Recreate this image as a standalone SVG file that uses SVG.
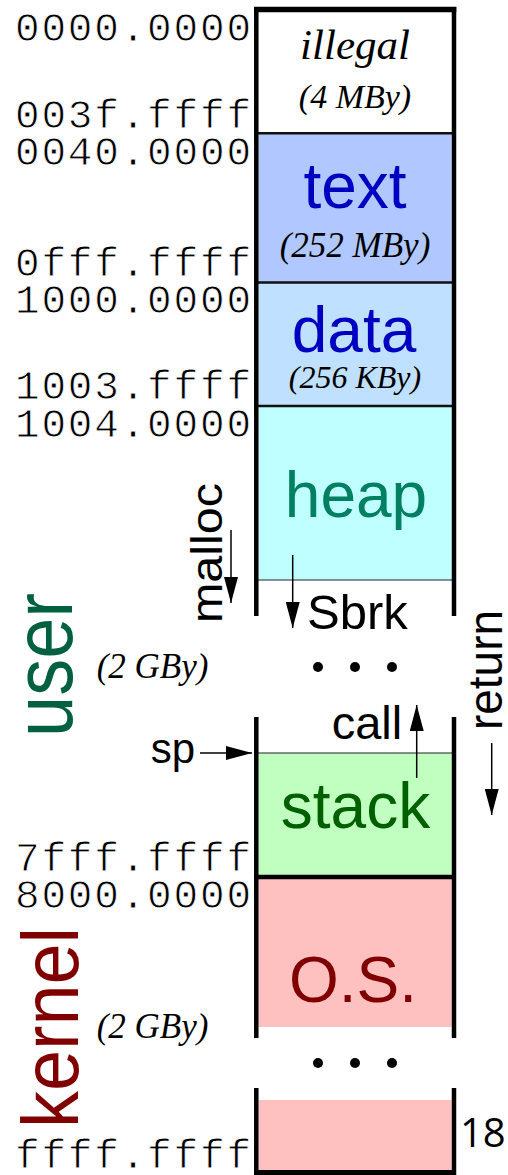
<svg xmlns="http://www.w3.org/2000/svg" width="508" height="1175" viewBox="0 0 508 1175">
<style>
.addr{font-family:"Liberation Mono",monospace;font-size:41px;fill:#000;text-anchor:end;stroke:#fff;stroke-width:0.8}
.it{font-family:"Liberation Serif",serif;font-style:italic;fill:#000;text-anchor:middle}
.itl{font-family:"Liberation Serif",serif;font-style:italic;fill:#000;font-size:35px}
.big{font-family:"Liberation Sans",Arial,sans-serif;font-size:64px;text-anchor:middle}
.lbl{font-family:"Liberation Sans",Arial,sans-serif}
.side{stroke:#000;stroke-width:4.5;fill:none}
.div{stroke:#111;stroke-width:2.5}
.thin{stroke:#222;stroke-width:1.2}
.thick{stroke:#000;stroke-width:4.5}
.arr{stroke:#000;stroke-width:1.5;fill:none;marker-end:url(#ah)}
.dot{fill:#000}
</style>
<defs>
<marker id="ah" markerUnits="userSpaceOnUse" markerWidth="26" markerHeight="14" refX="26" refY="7" orient="auto"><path d="M0,0 L26,7 L0,14 Z" fill="#000"/></marker>
</defs>

<g id="illegal">
<rect x="258.5" y="12" width="193.2" height="121" fill="#fff"/>
<text class="it" x="355" y="59" font-size="43">illegal</text>
<text class="it" x="355" y="108" font-size="34">(4 MBy)</text>
</g>
<g id="text">
<rect x="258.5" y="133" width="193.2" height="150" fill="#b0c8ff"/>
<text class="big" x="355" y="208" fill="#0000c0">text</text>
<text class="it" x="355" y="257" font-size="35">(252 MBy)</text>
</g>
<g id="data">
<rect x="258.5" y="283" width="193.2" height="123" fill="#c0e0ff"/>
<text class="big" x="354" y="352" fill="#0000c0">data</text>
<text class="it" x="355" y="388" font-size="32">(256 KBy)</text>
</g>
<g id="heap">
<rect x="258.5" y="406" width="193.2" height="174" fill="#c0ffff"/>
<text class="big" x="356" y="517" fill="#008060">heap</text>
</g>
<g id="gap-user">
<circle class="dot" cx="318" cy="667" r="5"/>
<circle class="dot" cx="355" cy="667" r="5"/>
<circle class="dot" cx="392" cy="667" r="5"/>
<text class="lbl" x="307" y="629" font-size="49" fill="#000">Sbrk</text>
<text class="lbl" x="331.7" y="739" font-size="47" fill="#000">call</text>
</g>
<g id="stack">
<rect x="258.5" y="753" width="193.2" height="123" fill="#c0ffc0"/>
<text class="big" x="355.5" y="828" fill="#006000" font-size="65">stack</text>
</g>
<g id="os">
<rect x="258.5" y="878" width="193.2" height="149" fill="#ffc0c0"/>
<text class="big" x="353" y="1002" fill="#800000">O.S.</text>
</g>
<g id="gap-kernel">
<circle class="dot" cx="318" cy="1063" r="5"/>
<circle class="dot" cx="355" cy="1063" r="5"/>
<circle class="dot" cx="392" cy="1063" r="5"/>
</g>
<g id="kernel-tail">
<rect x="258.5" y="1100" width="193.2" height="72" fill="#ffc0c0"/>
</g>

<g id="frame">
<line class="thick" x1="254" y1="9.5" x2="456.3" y2="9.5" style="stroke-width:5.5"/>
<line class="div" x1="256" y1="133.3" x2="454" y2="133.3"/>
<line class="div" x1="256" y1="282.5" x2="454" y2="282.5"/>
<line class="div" x1="256" y1="406" x2="454" y2="406"/>
<line class="thin" x1="256" y1="580" x2="454" y2="580"/>
<line class="thin" x1="256" y1="753" x2="454" y2="753"/>
<line class="thick" x1="254" y1="877" x2="456" y2="877"/>
<line class="thick" x1="254" y1="1172.5" x2="456" y2="1172.5" style="stroke-width:5"/>
<path class="side" d="M256.3,7 V616 M256.3,717 V1038 M256.3,1088 V1175 M454,7 V616 M454,717 V1038 M454,1088 V1175"/>
</g>

<g id="addresses">
<text class="addr" x="251" y="40.7" textLength="236" lengthAdjust="spacing">0000.0000</text>
<text class="addr" x="251" y="128.3" textLength="236" lengthAdjust="spacing">003f.ffff</text>
<text class="addr" x="251" y="165" textLength="236" lengthAdjust="spacing">0040.0000</text>
<text class="addr" x="251" y="276" textLength="236" lengthAdjust="spacing">0fff.ffff</text>
<text class="addr" x="251" y="313.3" textLength="236" lengthAdjust="spacing">1000.0000</text>
<text class="addr" x="251" y="399.3" textLength="236" lengthAdjust="spacing">1003.ffff</text>
<text class="addr" x="251" y="437.3" textLength="236" lengthAdjust="spacing">1004.0000</text>
<text class="addr" x="251" y="871" textLength="236" lengthAdjust="spacing">7fff.ffff</text>
<text class="addr" x="251" y="907.7" textLength="236" lengthAdjust="spacing">8000.0000</text>
<text class="addr" x="251" y="1167.7" textLength="236" lengthAdjust="spacing">ffff.ffff</text>
</g>

<g id="side-labels">
<text class="lbl" transform="translate(71.7,737) rotate(-90)" font-size="84" fill="#006040" textLength="144" lengthAdjust="spacingAndGlyphs">user</text>
<text class="lbl" transform="translate(78.3,1128) rotate(-90)" font-size="79" fill="#800000" textLength="201" lengthAdjust="spacingAndGlyphs">kernel</text>
<text class="itl" x="96.7" y="678">(2 GBy)</text>
<text class="itl" x="96.7" y="1038">(2 GBy)</text>
<text class="lbl" transform="translate(221.7,623) rotate(-90)" font-size="44" fill="#000" textLength="140" lengthAdjust="spacingAndGlyphs">malloc</text>
<text class="lbl" transform="translate(501.7,730) rotate(-90)" font-size="48" fill="#000" textLength="120" lengthAdjust="spacingAndGlyphs">return</text>
<text class="lbl" x="150.7" y="763" font-size="42" fill="#000">sp</text>
<text x="460" y="1147" font-family="'Open Sans',sans-serif" font-size="40" fill="#000">18</text>
</g>

<g id="connectors">
<line class="arr" x1="231" y1="530" x2="231" y2="603"/>
<line class="arr" x1="292.7" y1="555" x2="292.7" y2="628"/>
<line class="arr" x1="416.7" y1="778" x2="416.7" y2="705"/>
<line class="arr" x1="491.7" y1="743" x2="491.7" y2="815"/>
<line class="arr" x1="200" y1="753" x2="252" y2="753"/>
</g>
</svg>
